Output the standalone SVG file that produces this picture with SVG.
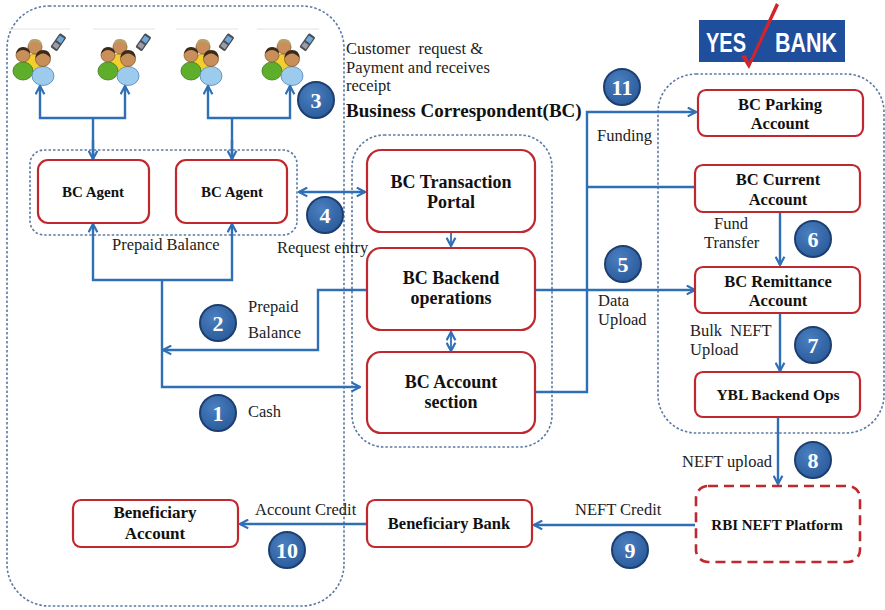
<svg xmlns="http://www.w3.org/2000/svg" width="885" height="610" viewBox="0 0 885 610">
  <style>
    .zone { fill: none; stroke: #5b7aa3; stroke-width: 1.6; stroke-dasharray: 2.5 2; }
    .box { fill: #ffffff; stroke: #c0282f; stroke-width: 2.2; }
    .dbox { fill: #ffffff; stroke: #c0282f; stroke-width: 2.6; stroke-dasharray: 10 6; }
    .lbl { font-family: "Liberation Serif", "Times New Roman", serif; font-weight: bold; fill: #111; text-anchor: middle; }
    .note { font-family: "Liberation Serif", "Times New Roman", serif; fill: #222; font-size: 16.5px; white-space: pre; }
    .wire { fill: none; stroke: #2f6fb6; stroke-width: 2.4; }
    .wire-end { marker-end: url(#arr); }
    .wire-both { marker-end: url(#arr); marker-start: url(#arr); }
    .num circle { fill: url(#numfill); stroke: #1d3f70; stroke-width: 2; }
    .num text { font-family: "Liberation Serif", "Times New Roman", serif; font-weight: bold; font-size: 22px; fill: #ffffff; text-anchor: middle; }
  </style>
  <defs>
    <marker id="arr" viewBox="0 0 10 10" refX="9" refY="5" markerWidth="11" markerHeight="11" markerUnits="userSpaceOnUse" orient="auto-start-reverse">
      <path d="M1.5,1 L9,5 L1.5,9" fill="none" stroke="#2f6fb6" stroke-width="2"/>
    </marker>
    <radialGradient id="numfill" cx="0.4" cy="0.35" r="0.7">
      <stop offset="0" stop-color="#4a7fc0"/>
      <stop offset="1" stop-color="#2a5a9a"/>
    </radialGradient>
    <!-- group of three customers with a mobile phone -->
    <g id="people">
      <line x1="-4" y1="0" x2="58" y2="0" stroke="#e2e2e2" stroke-width="1"/>
      <!-- phone -->
      <g transform="translate(48,4) rotate(35)">
        <rect x="0" y="0" width="8" height="17" rx="1.5" fill="#4a4d52"/>
        <rect x="1.3" y="2" width="5.4" height="6" fill="#6fa8dc"/>
        <rect x="1.3" y="10" width="5.4" height="5" fill="#9a9da3"/>
      </g>
      <!-- back yellow person -->
      <ellipse cx="23" cy="34" rx="10" ry="9" fill="#f2cf2e" stroke="#b8951a" stroke-width="0.8"/>
      <circle cx="23" cy="18" r="7" fill="#c98f5a" stroke="#8a5a30" stroke-width="0.8"/>
      <path d="M16,17 Q17,9 23,10 Q30,10 30,17 Q27,13 23,13 Q19,13 16,17 Z" fill="#b7a16a"/>
      <!-- green person -->
      <ellipse cx="11" cy="42" rx="10" ry="9" fill="#5eae2c" stroke="#3d7a1a" stroke-width="0.8"/>
      <circle cx="11" cy="26" r="7" fill="#c98f5a" stroke="#8a5a30" stroke-width="0.8"/>
      <path d="M4,25 Q5,18 11,18 Q18,18 18,25 Q15,21 11,21 Q7,21 4,25 Z" fill="#3a2a1c"/>
      <!-- front blue person -->
      <ellipse cx="31" cy="47" rx="11" ry="9.5" fill="#9ccbee" stroke="#4f86b8" stroke-width="0.8"/>
      <circle cx="31" cy="30" r="7.5" fill="#c98f5a" stroke="#8a5a30" stroke-width="0.8"/>
      <path d="M23.5,29 Q24,21 31,21 Q38.5,21 38.5,29 Q35,24.5 31,24.5 Q27,24.5 23.5,29 Z" fill="#3a2a1c"/>
    </g>
  </defs>

  <rect width="885" height="610" fill="#ffffff"/>

  <!-- dotted zones -->
  <g id="zones">
    <rect class="zone" x="7" y="6" width="337" height="600" rx="42"/>
    <rect class="zone" x="352" y="135" width="200" height="312" rx="32"/>
    <rect class="zone" x="658" y="74" width="226" height="359" rx="38"/>
    <rect class="zone" x="30" y="150" width="267" height="85" rx="14"/>
  </g>

  <!-- customers -->
  <g id="customers">
    <use href="#people" x="12" y="29"/>
    <use href="#people" x="97" y="29"/>
    <use href="#people" x="180" y="29"/>
    <use href="#people" x="261" y="29"/>
  </g>

  <!-- YES BANK logo -->
  <g id="logo">
    <rect x="699" y="20" width="146" height="42" fill="#1e4e9c"/>
    <text x="726" y="52" font-family="'Liberation Sans', Arial, sans-serif" font-weight="bold" font-size="27" fill="#ffffff" text-anchor="middle" textLength="40" lengthAdjust="spacingAndGlyphs">YES</text>
    <text x="806" y="52" font-family="'Liberation Sans', Arial, sans-serif" font-weight="bold" font-size="27" fill="#ffffff" text-anchor="middle" textLength="62" lengthAdjust="spacingAndGlyphs">BANK</text>
    <path d="M741,56 L746,55 L749,62 L776,3 L779,5 L749,69 Z" fill="#d0252c"/>
  </g>

  <!-- connectors -->
  <g id="connectors">
    <!-- agents to customers -->
    <path class="wire" d="M93,160 V118"/>
    <path class="wire wire-end" d="M93,118 H40 V86"/>
    <path class="wire wire-end" d="M93,118 H125 V86"/>
    <path class="wire wire-end" d="M93,140 V159"/>
    <path class="wire" d="M232,160 V118"/>
    <path class="wire wire-end" d="M232,118 H208 V86"/>
    <path class="wire wire-end" d="M232,118 H290 V86"/>
    <path class="wire wire-end" d="M232,140 V159"/>
    <!-- prepaid balance up to agents -->
    <path class="wire wire-end" d="M162,280 H93 V224"/>
    <path class="wire wire-end" d="M162,280 H232 V224"/>
    <!-- cash to account section -->
    <path class="wire wire-end" d="M162,280 V387 H360"/>
    <!-- prepaid balance from backend -->
    <path class="wire wire-end" d="M367,290 H318 V350 H163"/>
    <!-- request entry -->
    <path class="wire wire-both" d="M299,192 H365"/>
    <!-- portal to backend -->
    <path class="wire wire-end" d="M451,233 V246" style="stroke-width:1.8"/>
    <!-- backend and account section -->
    <path class="wire wire-both" d="M451,332 V351" style="stroke-width:1.8"/>
    <!-- data upload -->
    <path class="wire wire-end" d="M535,290 H695"/>
    <!-- funding -->
    <path class="wire wire-end" d="M535,392 H587 V112 H696"/>
    <path class="wire" d="M587,187 H695"/>
    <!-- fund transfer -->
    <path class="wire wire-end" d="M780,212 V265"/>
    <!-- bulk neft upload -->
    <path class="wire wire-end" d="M780,313 V371"/>
    <!-- neft upload -->
    <path class="wire wire-end" d="M778,417 V484"/>
    <!-- neft credit -->
    <path class="wire wire-end" d="M695,525 H534"/>
    <!-- account credit -->
    <path class="wire wire-end" d="M367,524 H240"/>
  </g>

  <!-- nodes -->
  <g id="agent1"><rect class="box" x="38" y="160" width="111" height="63" rx="10"/><text class="lbl" x="93" y="197" font-size="15">BC Agent</text></g>
  <g id="agent2"><rect class="box" x="176" y="160" width="111" height="63" rx="10"/><text class="lbl" x="232" y="197" font-size="15">BC Agent</text></g>
  <g id="portal"><rect class="box" x="367" y="150" width="168" height="82" rx="14"/><text class="lbl" x="451" y="188" font-size="18">BC Transaction</text><text class="lbl" x="451" y="208" font-size="18">Portal</text></g>
  <g id="backend"><rect class="box" x="367" y="248" width="168" height="82" rx="14"/><text class="lbl" x="451" y="284" font-size="18">BC Backend</text><text class="lbl" x="451" y="304" font-size="18">operations</text></g>
  <g id="account-section"><rect class="box" x="367" y="352" width="168" height="81" rx="14"/><text class="lbl" x="451" y="388" font-size="18">BC Account</text><text class="lbl" x="451" y="408" font-size="18">section</text></g>
  <g id="parking"><rect class="box" x="698" y="90" width="165" height="46" rx="8"/><text class="lbl" x="780" y="110" font-size="16.5">BC Parking</text><text class="lbl" x="780" y="129" font-size="16.5">Account</text></g>
  <g id="current"><rect class="box" x="695" y="165" width="165" height="47" rx="8"/><text class="lbl" x="778" y="185" font-size="16.5">BC Current</text><text class="lbl" x="778" y="205" font-size="16.5">Account</text></g>
  <g id="remittance"><rect class="box" x="695" y="267" width="165" height="46" rx="8"/><text class="lbl" x="778" y="287" font-size="16.5">BC Remittance</text><text class="lbl" x="778" y="306" font-size="16.5">Account</text></g>
  <g id="ybl-ops"><rect class="box" x="695" y="372" width="165" height="45" rx="8"/><text class="lbl" x="778" y="400" font-size="15.5">YBL Backend Ops</text></g>
  <g id="rbi"><rect class="dbox" x="696" y="486" width="164" height="76" rx="12"/><text class="lbl" x="777" y="530" font-size="15">RBI NEFT Platform</text></g>
  <g id="ben-bank"><rect class="box" x="367" y="500" width="165" height="47" rx="8"/><text class="lbl" x="449" y="529" font-size="16.5">Beneficiary Bank</text></g>
  <g id="ben-account"><rect class="box" x="73" y="500" width="165" height="47" rx="8"/><text class="lbl" x="155" y="518" font-size="17">Beneficiary</text><text class="lbl" x="155" y="539" font-size="17">Account</text></g>

  <!-- annotations -->
  <g id="notes">
    <text class="note" x="346" y="54" font-size="16">Customer  request &amp;</text>
    <text class="note" x="346" y="72.5" font-size="16">Payment and receives</text>
    <text class="note" x="346" y="91" font-size="16">receipt</text>
    <text x="346" y="117" font-family="'Liberation Serif', 'Times New Roman', serif" font-weight="bold" font-size="19" fill="#111">Business Correspondent(BC)</text>
    <text class="note" x="597" y="141">Funding</text>
    <text class="note" x="112" y="250" font-size="14.5">Prepaid Balance</text>
    <text class="note" x="277" y="253" font-size="17">Request entry</text>
    <text class="note" x="248" y="312" font-size="16.5">Prepaid</text>
    <text class="note" x="248" y="338" font-size="16.5">Balance</text>
    <text class="note" x="248" y="417">Cash</text>
    <text class="note" x="598" y="306" font-size="16">Data</text>
    <text class="note" x="598" y="325" font-size="16">Upload</text>
    <text class="note" x="714" y="229" font-size="16">Fund</text>
    <text class="note" x="704" y="248" font-size="16">Transfer</text>
    <text class="note" x="690" y="336" font-size="16">Bulk  NEFT</text>
    <text class="note" x="690" y="355" font-size="16">Upload</text>
    <text class="note" x="682" y="467">NEFT upload</text>
    <text class="note" x="575" y="515">NEFT Credit</text>
    <text class="note" x="255" y="515" font-size="17">Account Credit</text>
  </g>

  <!-- step numbers -->
  <g id="steps">
    <g class="num"><circle cx="218" cy="413" r="18"/><text x="218" y="421">1</text></g>
    <g class="num"><circle cx="218" cy="323" r="18"/><text x="218" y="331">2</text></g>
    <g class="num"><circle cx="316" cy="100" r="18"/><text x="316" y="108">3</text></g>
    <g class="num"><circle cx="325" cy="215" r="18"/><text x="325" y="223">4</text></g>
    <g class="num"><circle cx="623" cy="264" r="18"/><text x="623" y="272">5</text></g>
    <g class="num"><circle cx="813" cy="239" r="18"/><text x="813" y="247">6</text></g>
    <g class="num"><circle cx="813" cy="345" r="18"/><text x="813" y="353">7</text></g>
    <g class="num"><circle cx="813" cy="460" r="18"/><text x="813" y="468">8</text></g>
    <g class="num"><circle cx="630" cy="550" r="18"/><text x="630" y="558">9</text></g>
    <g class="num"><circle cx="287" cy="550" r="18"/><text x="287" y="558">10</text></g>
    <g class="num"><circle cx="622" cy="87" r="18"/><text x="622" y="95">11</text></g>
  </g>
</svg>
